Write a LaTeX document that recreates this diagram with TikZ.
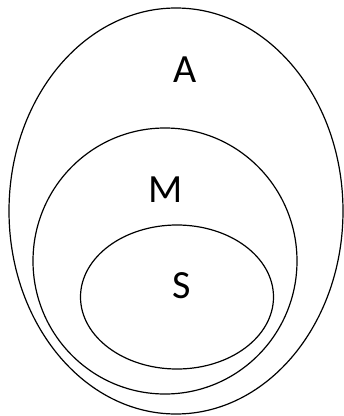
\documentclass[tikz,border=0pt]{standalone}
\usepackage{fontspec}
\setmainfont{Carlito}
\usetikzlibrary{positioning}

\begin{document}
\begin{tikzpicture}[x=1pt, y=-1pt, line width=1.2pt]
          % frame of the picture
          \useasboundingbox (0,0) rectangle (344,416);

          % centres of the nested sets
          \coordinate (cA) at (176,211);
          \coordinate (cM) at (165,261);
          \coordinate (cS) at (177,297);

          % set outlines
          \draw (cA) ellipse (167 and 203);
          \draw (cM) ellipse (132 and 133);
          \draw (cS) ellipse (96.5 and 72);

          % set labels
          \tikzset{setlabel/.style={font=\fontsize{40}{48}\selectfont, inner sep=0pt}}
          \node[setlabel] (A) at (185,70)  {A};
          \node[setlabel] (M) at (166,190) {M};
          \node[setlabel] (S) at (182,286) {S};
        \end{tikzpicture}
\end{document}
